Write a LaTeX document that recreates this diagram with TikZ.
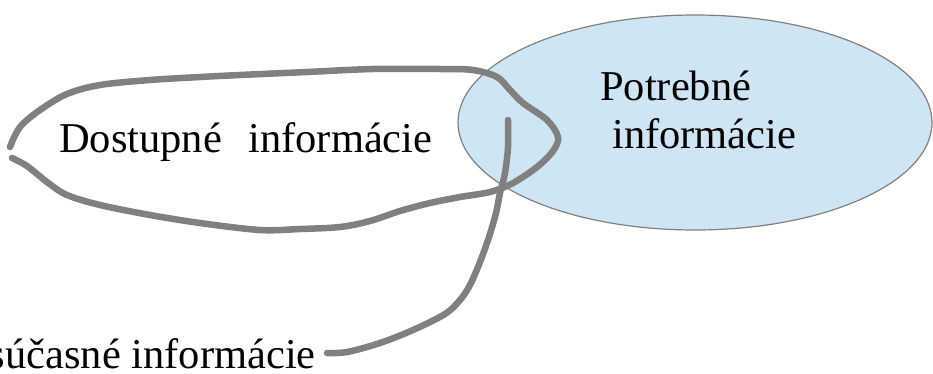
\documentclass[tikz,border=0pt]{standalone}
\usepackage{fontspec}
\setmainfont{Liberation Serif}
\usepackage{tikz}
\usetikzlibrary{%
  calc,%
  shapes.geometric%
}
\definecolor{infoblue}{RGB}{208,229,243}
\definecolor{lassogray}{RGB}{128,128,128}
\tikzset{
  infotext/.style={inner sep=0pt, font=\fontsize{42.5}{48}\selectfont},
  lasso/.style={line width=6.5pt, color=lassogray, line cap=round, line join=round}
}

\begin{document}
\begin{tikzpicture}[x=1pt,y=-1pt]

    \useasboundingbox (0,0) rectangle (933,373);

    %%%%%%%%%%%%%%%%
    %% needed information (ellipse)
    \node[ellipse, draw=lassogray, line width=1.2pt, fill=infoblue,
      minimum width=474pt, minimum height=215pt] (potrebne) at (695,122.5) {};

    %% texts
    \node[infotext, anchor=base west] (potrebne1) at (600,100) {Potrebné};
    \node[infotext, anchor=base west] (potrebne2) at (612,148) {informácie};
    \node[infotext, anchor=base west] (dostupne) at (59,152)
      {Dostupné\hspace{0.62em}informácie};
    \node[infotext, anchor=base east] (sucasne) at (316,368) {súčasné informácie};

    %%%%%%%%%%%%%%%%
    %% available information (hand drawn lasso)
    \draw[lasso] plot[smooth, tension=.55] coordinates {
      (10,147) (20,127) (40,110) (67,94) (100,85) (150,80) (200,77)
      (240,75) (307,72) (373,69) (440,69) (473,70) (497,77) (510,90)
      (523,103) (547,120) (558,137) (553,151) (537,167) (513,183)
      (490,192) (460,197) (430,203) (400,211) (370,221) (340,227)
      (300,229) (260,230) (200,223) (150,215) (100,205) (67,195)
      (47,182) (27,166) (12,158)};

    %%%%%%%%%%%%%%%%
    %% current information (stroke to the label)
    \coordinate (stroketop) at (508,120);
    \draw[lasso] plot[smooth, tension=.55] coordinates {
      (stroketop) (508,147) (505,173) (500,193) (496,213) (489,237)
      (480,262) (470,285) (460,300) (445,314) (413,330) (380,343)
      (347,352) (327,353)};

\end{tikzpicture}
\end{document}
